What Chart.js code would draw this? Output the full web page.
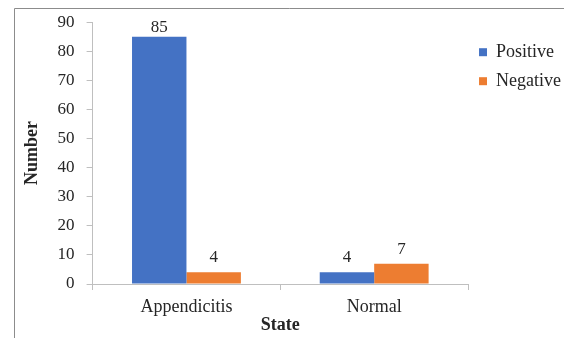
<!DOCTYPE html>
<html>
<head>
<meta charset="utf-8">
<script src="https://cdn.jsdelivr.net/npm/chart.js@4/dist/chart.umd.min.js"></script>
<style>
  html, body { margin: 0; padding: 0; background: #ffffff; }
  #wrap { width: 564px; height: 338px; }
</style>
</head>
<body>
<div id="wrap"><canvas id="c" width="564" height="338"></canvas></div>
<script>
const categories = ['Appendicitis', 'Normal'];
const positiveCounts = [85, 4];
const negativeCounts = [4, 7];
const yTicks = [0, 10, 20, 30, 40, 50, 60, 70, 80, 90];

const serif = '"Liberation Serif"';

// Thin frame along the top and left edges of the figure
const framePlugin = {
  id: 'frame',
  beforeDraw(chart) {
    const ctx = chart.ctx;
    ctx.save();
    ctx.strokeStyle = '#8c8c8c';
    ctx.lineWidth = 1;
    ctx.beginPath();
    ctx.moveTo(14.5, 338);
    ctx.lineTo(14.5, 8.5);
    ctx.lineTo(564, 8.5);
    ctx.stroke();
    ctx.restore();
  }
};

// Value labels above each bar, kept inside the plot area
const valueLabels = {
  id: 'valueLabels',
  afterDatasetsDraw(chart) {
    const ctx = chart.ctx;
    const top = chart.chartArea.top;
    ctx.save();
    ctx.font = '17px ' + serif;
    ctx.fillStyle = '#262626';
    ctx.textAlign = 'center';
    ctx.textBaseline = 'alphabetic';
    chart.data.datasets.forEach((ds, i) => {
      chart.getDatasetMeta(i).data.forEach((bar, j) => {
        const y = Math.max(bar.y - 10, top + 10);
        ctx.fillText(String(ds.data[j]), bar.x, y);
      });
    });
    ctx.restore();
  }
};

function build() {
  new Chart(document.getElementById('c'), {
    type: 'bar',
    data: {
      labels: categories,
      datasets: [
        { label: 'Positive', data: positiveCounts, backgroundColor: '#4472C4' },
        { label: 'Negative', data: negativeCounts, backgroundColor: '#ED7D31' }
      ]
    },
    options: {
      responsive: false,
      animation: false,
      devicePixelRatio: 1,
      categoryPercentage: 0.58,
      barPercentage: 1.0,
      layout: { padding: { left: 22, top: 14, right: -7, bottom: 4 } },
      plugins: {
        legend: {
          position: 'right',
          align: 'start',
          title: { display: true, text: ' ', font: { size: 1 }, padding: { top: 17, bottom: 0 } },
          labels: {
            boxWidth: 8,
            boxHeight: 8,
            padding: 11,
            color: '#262626',
            font: { family: serif, size: 18 }
          }
        },
        tooltip: { enabled: false }
      },
      scales: {
        x: {
          offset: true,
          grid: {
            offset: true,
            drawOnChartArea: false,
            tickLength: 6,
            color: '#bfbfbf'
          },
          border: { color: '#bfbfbf', width: 1 },
          ticks: { color: '#262626', font: { family: serif, size: 18, lineHeight: 1 }, padding: 8 },
          title: {
            display: true,
            text: 'State',
            color: '#262626',
            font: { family: serif, size: 18, weight: 'bold', lineHeight: 1 },
            padding: { top: -8, bottom: 0 }
          }
        },
        y: {
          min: 0,
          max: 90,
          afterBuildTicks(axis) { axis.ticks = yTicks.map(v => ({ value: v })); },
          grid: {
            drawOnChartArea: false,
            tickLength: 6,
            color: '#bfbfbf'
          },
          border: { color: '#bfbfbf', width: 1 },
          ticks: { color: '#262626', font: { family: serif, size: 17 }, padding: 12 },
          title: {
            display: true,
            text: 'Number',
            color: '#262626',
            font: { family: serif, size: 18, weight: 'bold' },
            padding: { top: 0, bottom: 2 }
          }
        }
      }
    },
    plugins: [framePlugin, valueLabels]
  });
}

Promise.all([
  document.fonts.load('17px "Liberation Serif"'),
  document.fonts.load('18px "Liberation Serif"'),
  document.fonts.load('bold 18px "Liberation Serif"')
]).then(build, build);
</script>
</body>
</html>
